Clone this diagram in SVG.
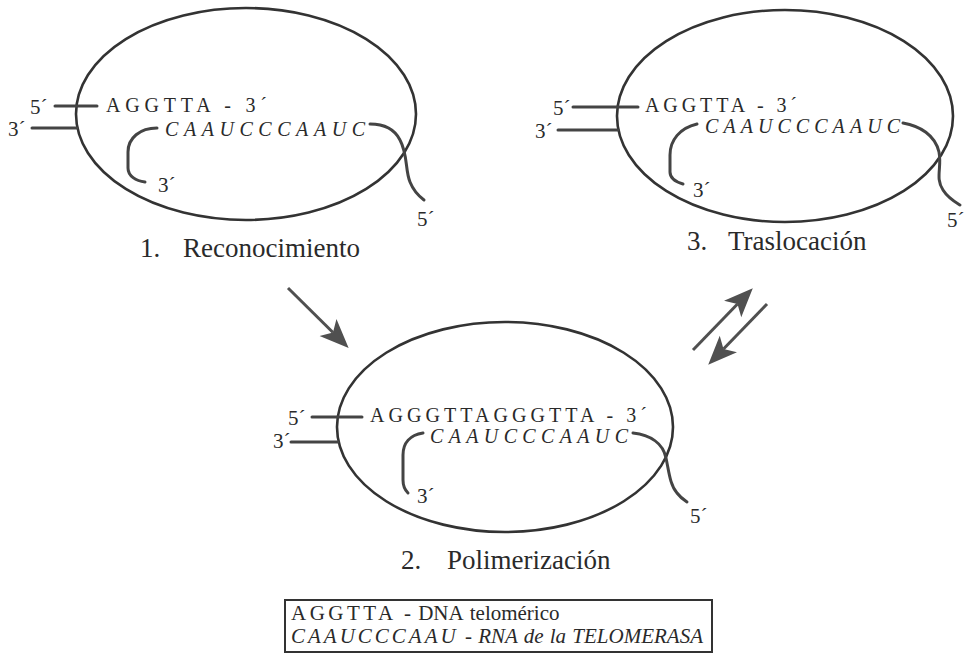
<svg xmlns="http://www.w3.org/2000/svg" width="970" height="654" viewBox="0 0 970 654" font-family="'Liberation Serif', 'DejaVu Serif', 'Times New Roman', serif">
<style>
.bg{fill:#ffffff}
.cell{fill:none;stroke:#333;stroke-width:2.6}
.strand{fill:none;stroke:#444;stroke-width:3;stroke-linecap:round}
text{font-family:'Liberation Serif','DejaVu Serif','Times New Roman',serif;fill:#2a2a2a}
.seq{font-size:20px}
.rna{font-size:20px;font-style:italic}
.end{font-size:21px}
.lbl{font-size:27px}
.leg{font-size:21px}
.box{fill:#fff;stroke:#333;stroke-width:2}
.arr{stroke:#505050;stroke-width:3;fill:none}
</style>
<defs>
<marker id="ah" markerUnits="userSpaceOnUse" markerWidth="30" markerHeight="26" viewBox="0 0 30 26" refX="7" refY="13" orient="auto">
<path d="M0,1 L29,13 L0,25 L7,13 Z" fill="#505050"/>
</marker>
</defs>
<rect class="bg" x="0" y="0" width="970" height="654"/>

<g id="step1">
<ellipse class="cell" cx="246" cy="114" rx="170" ry="106"/>
<line class="strand" x1="55" y1="106" x2="97" y2="106"/>
<line class="strand" x1="32" y1="128" x2="77" y2="128"/>
<path class="strand" d="M157,128 C140,128 128,138 128,152 L128,168 C128,176 136,181 145,182"/>
<path class="strand" d="M370,124 C385,124 395,130 400,140 C408,155 405,170 410,182 C414,192 420,197 424,200"/>
<text class="end" x="30" y="114">5´</text>
<text class="end" x="8" y="136">3´</text>
<text class="seq" x="106" y="112" textLength="161" lengthAdjust="spacing">AGGTTA - 3´</text>
<text class="rna" x="165" y="136" textLength="200" lengthAdjust="spacing">CAAUCCCAAUC</text>
<text class="end" x="158" y="192">3´</text>
<text class="end" x="417" y="226">5´</text>
<text class="lbl" x="140" y="257">1.</text>
<text class="lbl" x="183" y="257">Reconocimiento</text>
</g>

<g id="step3">
<ellipse class="cell" cx="785" cy="116" rx="168" ry="106"/>
<line class="strand" x1="573" y1="107" x2="638" y2="107"/>
<line class="strand" x1="558" y1="130" x2="618" y2="130"/>
<path class="strand" d="M697,124 C680,128 670,140 670,155 L670,172 C670,178 676,182 683,184"/>
<path class="strand" d="M903,123 C920,126 935,135 939,152 C942,168 935,178 943,190 C948,198 955,202 960,205"/>
<text class="end" x="553" y="115">5´</text>
<text class="end" x="535" y="138">3´</text>
<text class="seq" x="645" y="112" textLength="152" lengthAdjust="spacing">AGGTTA - 3´</text>
<text class="rna" x="705" y="133" textLength="195" lengthAdjust="spacing">CAAUCCCAAUC</text>
<text class="end" x="693" y="197">3´</text>
<text class="end" x="947" y="227">5´</text>
<text class="lbl" x="687" y="250">3.</text>
<text class="lbl" x="728" y="250">Traslocación</text>
</g>

<g id="step2">
<ellipse class="cell" cx="505" cy="427" rx="168" ry="105"/>
<line class="strand" x1="312" y1="417" x2="362" y2="417"/>
<line class="strand" x1="291" y1="442" x2="338" y2="442"/>
<path class="strand" d="M423,433 C410,435 403,443 403,455 L403,480 C403,486 405,490 408,493"/>
<path class="strand" d="M633,433 C650,435 663,443 666,458 C669,472 670,485 677,493 C680,497 684,500 687,502"/>
<text class="end" x="288" y="425">5´</text>
<text class="end" x="273" y="448">3´</text>
<text class="seq" x="370" y="422" textLength="277" lengthAdjust="spacing">AGGGTTAGGGTTA - 3´</text>
<text class="rna" x="430" y="443" textLength="198" lengthAdjust="spacing">CAAUCCCAAUC</text>
<text class="end" x="417" y="503">3´</text>
<text class="end" x="690" y="523">5´</text>
<text class="lbl" x="401" y="569">2.</text>
<text class="lbl" x="447" y="569">Polimerización</text>
</g>

<g id="connectors">
<line class="arr" x1="288" y1="288" x2="333" y2="332.5" marker-end="url(#ah)"/>
<line class="arr" x1="693" y1="350" x2="737.5" y2="304" marker-end="url(#ah)"/>
<line class="arr" x1="767" y1="304" x2="723.5" y2="349" marker-end="url(#ah)"/>
</g>

<g id="legend">
<rect class="box" x="285" y="600" width="427" height="52"/>
<text class="leg" x="291" y="620" word-spacing="2"><tspan letter-spacing="3.5">AGGTTA</tspan> - DNA telomérico</text>
<text class="leg" x="291" y="643" font-style="italic" word-spacing="1"><tspan letter-spacing="3">CAAUCCCAAU</tspan> - RNA de la TELOMERASA</text>
</g>
</svg>
